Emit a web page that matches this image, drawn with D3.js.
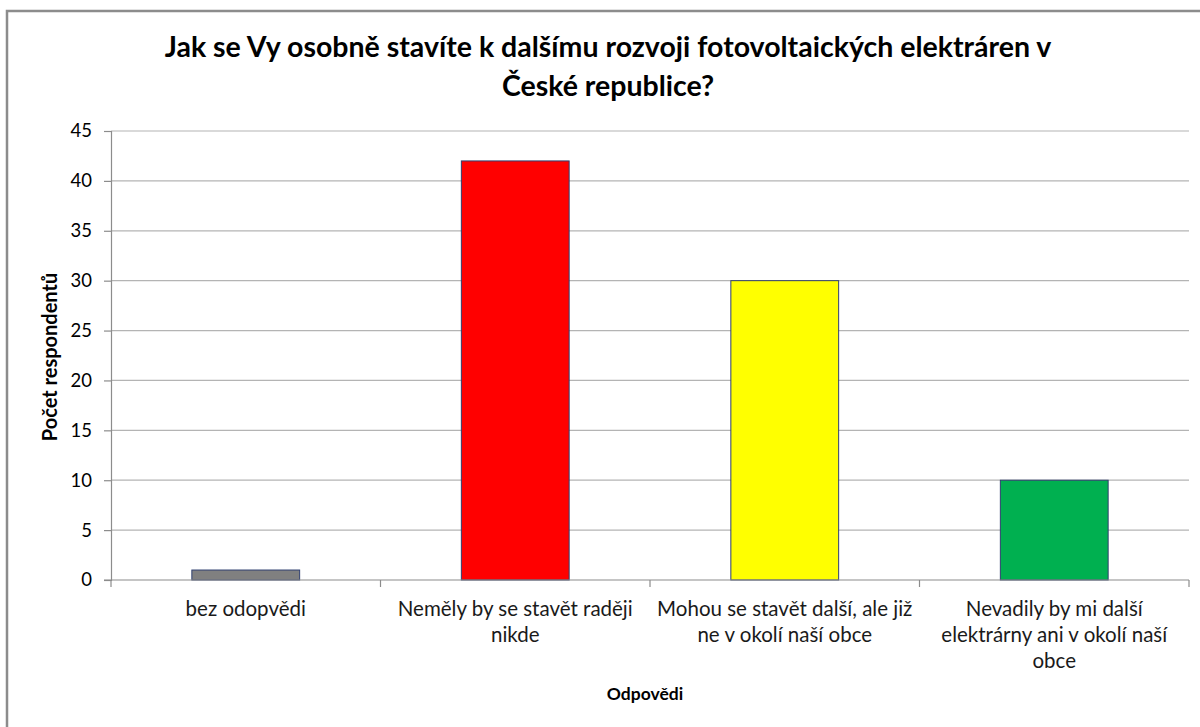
<!DOCTYPE html>
<html>
<head>
<meta charset="utf-8">
<script src="https://cdn.jsdelivr.net/npm/d3@7.9.0/dist/d3.min.js"></script>
<style>
  body { margin: 0; background: #fff; }
  svg { display: block; font-family: Lato, "Open Sans", sans-serif; }
</style>
</head>
<body>
<svg width="1200" height="727"></svg>
<script>
const categories = [
  ['bez odopvědi'],
  ['Neměly by se stavět raději', 'nikde'],
  ['Mohou se stavět další, ale již', 'ne v okolí naší obce'],
  ['Nevadily by mi další', 'elektrárny ani v okolí naší', 'obce']
];
const values = [1, 42, 30, 10];
const colors = ['#808080', '#ff0000', '#ffff00', '#00b050'];
const yTicks = [0, 5, 10, 15, 20, 25, 30, 35, 40, 45];
const titleLines = ['Jak se Vy osobně stavíte k dalšímu rozvoji fotovoltaických elektráren v', 'České republice?'];

const svg = d3.select('svg');
const plotLeft = 111, plotRight = 1189, plotTop = 131, plotBottom = 580;

// chart frame (only left and top edges fall inside the picture)
svg.append('rect')
    .attr('x', 7).attr('y', 11)
    .attr('width', 1210).attr('height', 730)
    .attr('fill', 'none')
    .attr('stroke', '#8c8c8c')
    .attr('stroke-width', 2.5);

let x = d3.scaleBand()
    .domain(d3.range(categories.length))
    .range([plotLeft, plotRight])
    .paddingInner(0.6)
    .paddingOuter(0.3);

let y = d3.scaleLinear().domain([0, 45]).range([plotBottom, plotTop]);

// gridlines
svg.append('g')
    .selectAll('line')
    .data(yTicks.filter(d => d > 0))
    .join('line')
    .attr('x1', plotLeft).attr('x2', plotRight)
    .attr('y1', d => y(d)).attr('y2', d => y(d))
    .attr('stroke', '#b4b4b4')
    .attr('stroke-width', 1.2);

// y axis
let yAxis = svg.append('g')
    .attr('transform', `translate(${plotLeft},0)`)
    .call(d3.axisLeft(y).tickValues(yTicks).tickSize(7).tickPadding(12));
yAxis.select('.domain').attr('stroke', '#8c8c8c').attr('stroke-width', 1.2);
yAxis.selectAll('.tick line').attr('stroke', '#8c8c8c').attr('stroke-width', 1.2);
yAxis.selectAll('.tick text')
    .attr('font-family', 'Lato, sans-serif')
    .attr('font-size', 18.5)
    .attr('fill', '#000');

// bars
svg.append('g')
    .selectAll('rect')
    .data(values)
    .join('rect')
    .attr('x', (d, i) => x(i))
    .attr('y', d => y(d))
    .attr('width', x.bandwidth())
    .attr('height', d => plotBottom - y(d))
    .attr('fill', (d, i) => colors[i])
    .attr('stroke', '#2f3f6f')
    .attr('stroke-width', 1);

// x axis line + ticks at category boundaries
let step = (plotRight - plotLeft) / categories.length;
svg.append('line')
    .attr('x1', plotLeft - 7).attr('x2', plotRight)
    .attr('y1', plotBottom).attr('y2', plotBottom)
    .attr('stroke', '#8c8c8c').attr('stroke-width', 1.2);
svg.append('g')
    .selectAll('line')
    .data(d3.range(categories.length + 1))
    .join('line')
    .attr('x1', i => plotLeft + i * step).attr('x2', i => plotLeft + i * step)
    .attr('y1', plotBottom).attr('y2', plotBottom + 7)
    .attr('stroke', '#8c8c8c').attr('stroke-width', 1.2);

// category labels
categories.forEach((lines, i) => {
  let cx = x(i) + x.bandwidth() / 2;
  let t = svg.append('text')
      .attr('text-anchor', 'middle')
      .attr('font-size', 20.5)
      .attr('fill', '#1a1a1a');
  lines.forEach((ln, j) => {
    t.append('tspan').attr('x', cx).attr('y', 616 + j * 26).text(ln);
  });
});

// title
let title = svg.append('text')
    .attr('text-anchor', 'middle')
    .attr('font-size', 28.5)
    .attr('font-weight', 'bold')
    .attr('fill', '#000');
titleLines.forEach((ln, j) => {
  title.append('tspan').attr('x', 608).attr('y', 57 + j * 39).text(ln);
});

// axis titles
svg.append('text')
    .attr('x', 645).attr('y', 700)
    .attr('text-anchor', 'middle')
    .attr('font-size', 17.5)
    .attr('font-weight', 'bold')
    .text('Odpovědi');

svg.append('text')
    .attr('transform', 'translate(57,357) rotate(-90)')
    .attr('text-anchor', 'middle')
    .attr('font-size', 20)
    .attr('font-weight', 'bold')
    .text('Počet respondentů');
</script>
</body>
</html>
